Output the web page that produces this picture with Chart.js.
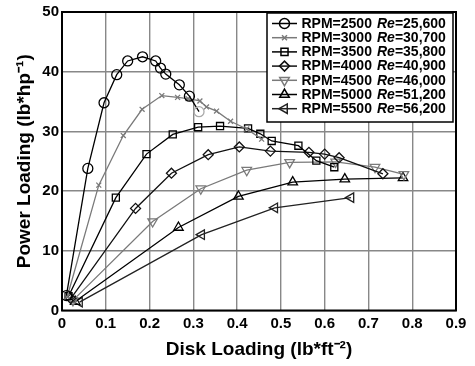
<!DOCTYPE html>
<html>
<head>
<meta charset="utf-8">
<script src="https://cdn.jsdelivr.net/npm/chart.js@4/dist/chart.umd.min.js"></script>
<style>
html,body{margin:0;padding:0;background:#fff;}
#wrap{width:475px;height:366px;position:relative;}
</style>
</head>
<body>
<div id="wrap"><canvas id="c" width="475" height="366"></canvas></div>
<script>
// ---- data ----
const xTicks = ["0","0.1","0.2","0.3","0.4","0.5","0.6","0.7","0.8","0.9"];
const yTicks = ["0","10","20","30","40","50"];
const rpmLabels = ["RPM=2500","RPM=3000","RPM=3500","RPM=4000","RPM=4500","RPM=5000","RPM=5500"];
const reLabels = ["25,600","30,700","35,800","40,900","46,000","51,200","56,200"];

const rpm2500x = [0.010,0.059,0.096,0.125,0.150,0.184,0.214,0.225,0.237,0.268,0.291,0.313];
const rpm2500y = [2.5,23.8,34.8,39.5,41.8,42.5,41.8,40.6,39.6,37.8,35.9,33.3];
const rpm3000x = [0.012,0.084,0.140,0.183,0.228,0.264,0.288,0.315,0.330,0.353,0.385,0.422,0.456];
const rpm3000y = [2.3,21.0,29.3,33.7,36.0,35.7,35.5,35.1,34.1,33.4,31.7,30.4,28.7];
const rpm3500x = [0.015,0.123,0.193,0.253,0.311,0.361,0.425,0.453,0.479,0.540,0.581,0.622];
const rpm3500y = [2.4,18.9,26.2,29.5,30.7,30.9,30.5,29.6,28.4,27.6,25.1,24.0];
const rpm4000x = [0.020,0.168,0.250,0.334,0.405,0.476,0.564,0.600,0.633,0.733];
const rpm4000y = [2.0,17.1,23.0,26.1,27.4,26.7,26.5,26.2,25.6,22.9];
const rpm4500x = [0.025,0.207,0.317,0.422,0.520,0.625,0.715,0.781];
const rpm4500y = [1.7,14.9,20.4,23.5,24.8,24.9,24.0,22.8];
const rpm5000x = [0.030,0.266,0.403,0.527,0.646,0.779];
const rpm5000y = [1.5,13.9,19.1,21.5,22.0,22.2];
const rpm5500x = [0.040,0.319,0.486,0.660];
const rpm5500y = [1.4,12.7,17.2,18.9];

function pts(xs, ys){ return xs.map((x,i)=>({x:x, y:ys[i]})); }

const styles = [
  {color:'#000', pointStyle:'circle', radius:5, rotation:0},
  {color:'#7a7a7a', pointStyle:'crossRot', radius:3.5, rotation:0},
  {color:'#000', pointStyle:'rect', radius:5, rotation:0},
  {color:'#111', pointStyle:'rectRot', radius:5, rotation:0},
  {color:'#7a7a7a', pointStyle:'triangle', radius:5.5, rotation:180},
  {color:'#000', pointStyle:'triangle', radius:5.5, rotation:0},
  {color:'#222', pointStyle:'triangle', radius:5.5, rotation:-90}
];
const series = [
  pts(rpm2500x, rpm2500y), pts(rpm3000x, rpm3000y), pts(rpm3500x, rpm3500y),
  pts(rpm4000x, rpm4000y), pts(rpm4500x, rpm4500y), pts(rpm5000x, rpm5000y),
  pts(rpm5500x, rpm5500y)
];

const datasets = series.map((d,i)=>{
  const s = styles[i];
  let pbc = s.color;
  if (i===0) pbc = d.map((p,j)=> j===d.length-1 ? '#aaa' : '#000');
  return {
    label: rpmLabels[i],
    data: d,
    showLine: true,
    borderColor: s.color,
    borderWidth: 1.3,
    pointStyle: s.pointStyle,
    pointRadius: s.radius,
    pointRotation: s.rotation,
    pointBorderColor: pbc,
    pointBackgroundColor: 'rgba(0,0,0,0)',
    pointBorderWidth: 1.3,
    tension: 0
  };
});

const FONT = "'Liberation Sans', Arial, sans-serif";

const framePlugin = {
  id:'frame',
  afterDatasetsDraw(chart){
    const {ctx, chartArea:a} = chart;
    ctx.save();
    ctx.strokeStyle = '#000';
    ctx.lineWidth = 2;
    ctx.strokeRect(a.left, a.top, a.right-a.left, a.bottom-a.top);
    ctx.restore();
  }
};

const legendPlugin = {
  id:'customLegend',
  afterDraw(chart){
    const ctx = chart.ctx;
    const bx = 267, by = 13, bw = 186, bh = 109;
    ctx.save();
    ctx.fillStyle = '#fff';
    ctx.fillRect(bx, by, bw, bh);
    ctx.strokeStyle = '#000';
    ctx.lineWidth = 1.5;
    ctx.strokeRect(bx, by, bw, bh);
    const rowH = 14.2, y0 = 23.5;
    for (let i=0;i<rpmLabels.length;i++){
      const s = styles[i];
      const y = y0 + i*rowH;
      ctx.strokeStyle = s.color;
      ctx.lineWidth = 1.5;
      ctx.beginPath(); ctx.moveTo(272, y); ctx.lineTo(297, y); ctx.stroke();
      ctx.fillStyle = 'rgba(0,0,0,0)';
      Chart.helpers.drawPoint(ctx, {pointStyle:s.pointStyle, radius:s.radius, rotation:s.rotation, borderWidth:1.3}, 284.5, y);
      ctx.fillStyle = '#000';
      ctx.textBaseline = 'middle';
      ctx.textAlign = 'left';
      ctx.font = "bold 14px " + FONT;
      ctx.fillText(rpmLabels[i], 301.5, y+0.5);
      ctx.font = "italic bold 14px " + FONT;
      ctx.fillText("Re", 377, y+0.5);
      const w = ctx.measureText("Re").width;
      ctx.font = "bold 14px " + FONT;
      ctx.fillText("=" + reLabels[i], 377 + w, y+0.5);
    }
    ctx.restore();
  }
};

new Chart(document.getElementById('c'), {
  type:'scatter',
  data:{datasets},
  plugins:[framePlugin, legendPlugin],
  options:{
    responsive:false,
    animation:false,
    devicePixelRatio:1,
    layout:{padding:{top:7, right:19, left:0, bottom:0}},
    plugins:{legend:{display:false}, tooltip:{enabled:false}},
    scales:{
      x:{
        type:'linear', min:0, max:0.9,
        afterBuildTicks(s){ s.ticks = xTicks.map(t=>({value:parseFloat(t)})); },
        afterFit(s){ s.height = 55.5; },
        ticks:{
          callback:(v,i)=>xTicks[i],
          font:{family:FONT, size:15, weight:'bold'}, color:'#000', padding:4, maxRotation:0, autoSkip:false
        },
        grid:{color:'#888', lineWidth:1.4, drawTicks:false},
        border:{display:false},
        title:{display:true, text:'Disk Loading (lb*ft⁻²)', font:{family:FONT, size:19, weight:'bold'}, color:'#000', padding:{top:0,bottom:5}}
      },
      y:{
        type:'linear', min:0, max:50,
        afterBuildTicks(s){ s.ticks = yTicks.map(t=>({value:parseFloat(t)})); },
        afterFit(s){ s.width = 62; },
        ticks:{
          callback:(v,i)=>yTicks[i],
          font:{family:FONT, size:15, weight:'bold'}, color:'#000', padding:3, autoSkip:false
        },
        grid:{color:'#888', lineWidth:1.4, drawTicks:false},
        border:{display:false},
        title:{display:true, text:'Power Loading (lb*hp⁻¹)', font:{family:FONT, size:19, weight:'bold'}, color:'#000', padding:{top:13,bottom:0}}
      }
    }
  }
});
</script>
</body>
</html>
